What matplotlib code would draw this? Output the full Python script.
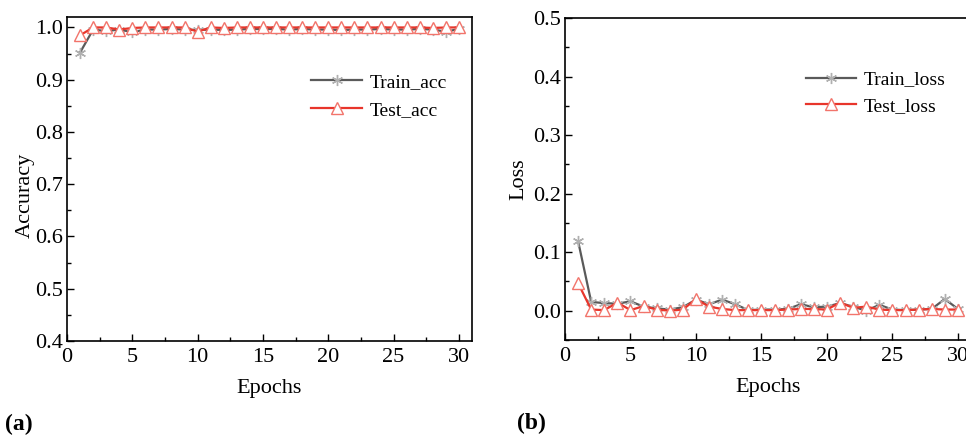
import matplotlib.pyplot as plt
from matplotlib.ticker import MultipleLocator

# Data
epochs = list(range(1, 31))
train_acc = [0.952, 0.996, 0.993, 0.996, 0.991, 0.996, 0.996, 0.997, 0.996, 0.995,
             0.996, 0.995, 0.996, 0.997, 0.997, 0.997, 0.996, 0.997, 0.996, 0.996,
             0.995, 0.996, 0.996, 0.997, 0.996, 0.996, 0.997, 0.996, 0.992, 0.997]
test_acc = [0.985, 1.000, 1.000, 0.996, 0.999, 1.000, 1.000, 1.000, 1.000, 0.992,
            1.000, 0.999, 1.000, 1.000, 1.000, 1.000, 1.000, 1.000, 1.000, 1.000,
            1.000, 1.000, 1.000, 1.000, 1.000, 1.000, 1.000, 0.999, 1.000, 1.000]
train_loss = [0.119, 0.015, 0.013, 0.012, 0.016, 0.007, 0.004, 0.002, 0.006, 0.019,
              0.011, 0.019, 0.011, 0.001, 0.002, 0.002, 0.003, 0.011, 0.006, 0.007,
              0.013, 0.007, 0.000, 0.010, 0.002, 0.001, 0.002, 0.003, 0.020, 0.003]
test_loss = [0.047, 0.002, 0.001, 0.014, 0.001, 0.008, 0.002, 0.000, 0.002, 0.020,
             0.007, 0.003, 0.001, 0.001, 0.001, 0.001, 0.002, 0.003, 0.003, 0.002,
             0.014, 0.005, 0.007, 0.002, 0.001, 0.001, 0.002, 0.003, 0.002, 0.002]

plt.rcParams['font.family'] = ['Liberation Serif', 'DejaVu Serif']
plt.rcParams['font.size'] = 16

TRAIN_LINE = '#5a5a5a'
TRAIN_MARK = '#b0b0b0'
TEST_LINE = '#e8352b'
TEST_MARK = '#f2746b'

fig = plt.figure(figsize=(9.66, 4.36), dpi=100)
ax1 = fig.add_axes([67 / 966, 95 / 436, 405 / 966, 324 / 436])
ax2 = fig.add_axes([565 / 966, 96 / 436, 406 / 966, 322 / 436])


def draw(ax, train, test, names):
    ax.plot(epochs, train, color=TRAIN_LINE, lw=1.6, marker=(6, 2, 0), ms=8,
            mec=TRAIN_MARK, mew=1.0, label=names[0])
    ax.plot(epochs, test, color=TEST_LINE, lw=1.6, marker='^', ms=8.5,
            mfc='white', mec=TEST_MARK, mew=1.0, label=names[1])
    ax.set_xlim(0, 31)
    ax.xaxis.set_major_locator(MultipleLocator(5))
    ax.xaxis.set_minor_locator(MultipleLocator(2.5))
    ax.yaxis.set_minor_locator(MultipleLocator(0.05))
    ax.tick_params(which='both', direction='in', top=False, right=False)
    ax.tick_params(which='major', length=5, width=1.0)
    ax.tick_params(which='minor', length=3, width=1.0)
    ax.tick_params(axis='x', pad=5)
    ax.tick_params(axis='y', pad=3)
    for sp in ax.spines.values():
        sp.set_linewidth(1.2)
    ax.set_xlabel('Epochs', labelpad=9)


legend_kw = dict(loc='upper left', frameon=False, handlelength=2.6,
                 handletextpad=0.4, fontsize=14)

draw(ax1, train_acc, test_acc, ['Train_acc', 'Test_acc'])
ax1.set_ylim(0.4, 1.02)
ax1.yaxis.set_major_locator(MultipleLocator(0.1))
ax1.set_ylabel('Accuracy')
ax1.yaxis.set_label_coords(-0.08, 0.45)
ax1.legend(bbox_to_anchor=(0.56, 0.88), labelspacing=0.55, **legend_kw)
ax1.text(-0.153, -0.275, '(a)', transform=ax1.transAxes, fontsize=17, fontweight='bold')

draw(ax2, train_loss, test_loss, ['Train_loss', 'Test_loss'])
ax2.set_ylim(-0.05, 0.5)
ax2.yaxis.set_major_locator(MultipleLocator(0.1))
ax2.set_ylabel('Loss', labelpad=3)
ax2.legend(bbox_to_anchor=(0.55, 0.89), labelspacing=0.45, **legend_kw)
ax2.text(-0.117, -0.275, '(b)', transform=ax2.transAxes, fontsize=17, fontweight='bold')

fig.savefig('out.png', dpi=100)
